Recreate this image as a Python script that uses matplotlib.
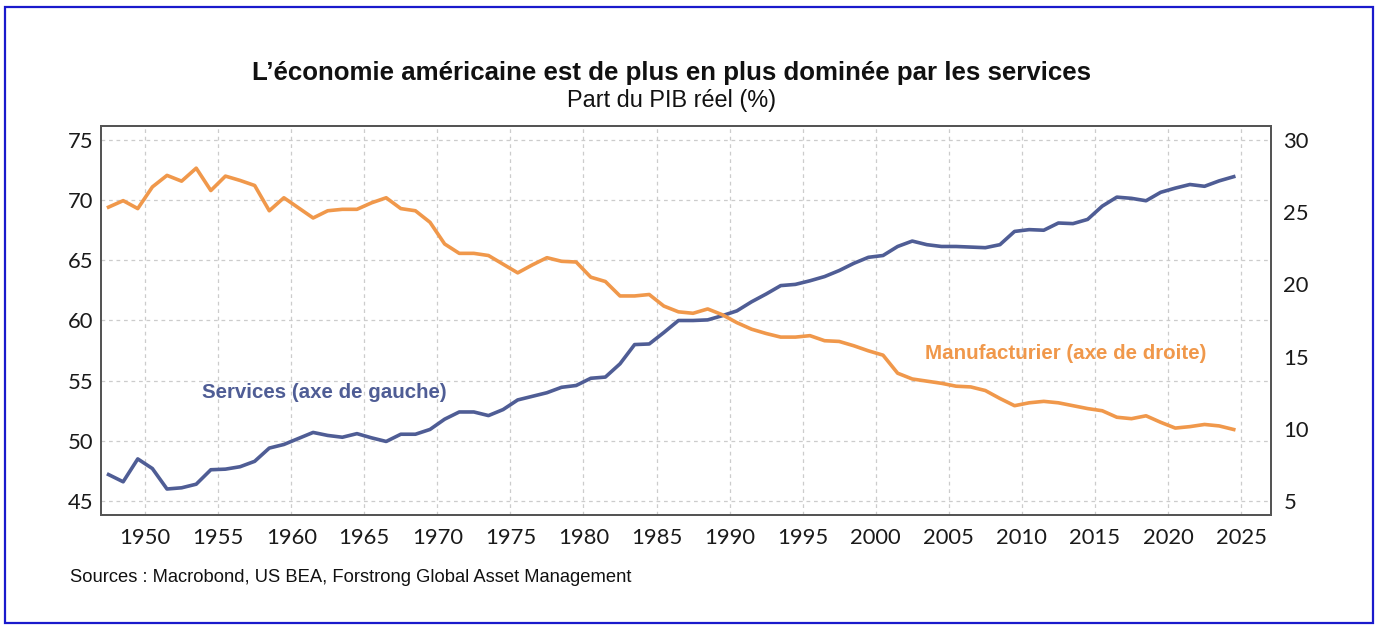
import matplotlib
matplotlib.use("Agg")
import matplotlib.pyplot as plt
import numpy as np
from matplotlib.patches import Rectangle

# annual data, 1947-2024
years = list(range(1947, 2025))

services = [47.2, 46.6, 48.5, 47.7, 46.0, 46.1, 46.4, 47.6, 47.65, 47.85,
            48.3, 49.4, 49.7, 50.2, 50.7, 50.45, 50.3, 50.6, 50.25, 49.95,
            50.55, 50.55, 50.95, 51.8, 52.4, 52.4, 52.1, 52.6, 53.4, 53.7,
            54.0, 54.45, 54.6, 55.2, 55.3, 56.4, 58.0, 58.05, 59.0, 60.0,
            60.0, 60.05, 60.4, 60.8, 61.55, 62.2, 62.9, 63.0, 63.3, 63.65,
            64.15, 64.75, 65.25, 65.4, 66.15, 66.6, 66.3, 66.15, 66.15, 66.1,
            66.05, 66.3, 67.4, 67.55, 67.5, 68.1, 68.05, 68.4, 69.5, 70.25,
            70.15, 69.95, 70.65, 71.0, 71.3, 71.15, 71.6, 71.95]

manufacturing = [25.35, 25.8, 25.25, 26.75, 27.55, 27.15, 28.05, 26.5, 27.5, 27.2,
                 26.85, 25.1, 26.0, 25.3, 24.6, 25.1, 25.2, 25.2, 25.65, 26.0,
                 25.25, 25.1, 24.3, 22.8, 22.15, 22.15, 22.0, 21.4, 20.8, 21.35,
                 21.85, 21.6, 21.55, 20.5, 20.2, 19.2, 19.2, 19.3, 18.5, 18.1,
                 18.0, 18.3, 17.9, 17.35, 16.9, 16.6, 16.35, 16.35, 16.45, 16.1,
                 16.05, 15.75, 15.4, 15.1, 13.85, 13.45, 13.3, 13.15, 12.95, 12.9,
                 12.65, 12.1, 11.6, 11.8, 11.9, 11.8, 11.6, 11.4, 11.25, 10.8,
                 10.7, 10.9, 10.45, 10.05, 10.15, 10.3, 10.2, 9.95]

x_ticks = list(range(1950, 2030, 5))
left_ticks = [45, 50, 55, 60, 65, 70, 75]
right_ticks = [5, 10, 15, 20, 25, 30]

title = "L\u2019économie américaine est de plus en plus dominée par les services"
subtitle = "Part du PIB réel (%)"
source = "Sources : Macrobond, US BEA, Forstrong Global Asset Management"

BLUE = "#4F5D95"
ORANGE = "#F0984B"

W, H = 1380, 631
fig = plt.figure(figsize=(W / 100, H / 100), dpi=100)
fig.patch.set_facecolor("white")

ax = fig.add_axes([100.5 / W, 1 - 515 / H, (1271 - 100.5) / W, (515 - 126) / H])
ax2 = ax.twinx()

# points sit in the middle of each year
xs = np.array(years) + 0.5
ax2.plot(xs, manufacturing, color=ORANGE, lw=2.6, solid_joinstyle="round", zorder=3)
ax.plot(xs, services, color=BLUE, lw=2.6, solid_joinstyle="round", zorder=3)

ax.set_xlim(1946.95, 2027.05)
ax.set_ylim(43.84, 76.16)
ax2.set_ylim(4.03, 30.97)

ax.set_xticks(x_ticks)
ax.set_yticks(left_ticks)
ax2.set_yticks(right_ticks)

ax.grid(True, color="#CCCCCC", ls=(0, (3, 3)), lw=0.9)
ax.set_axisbelow(True)

tick_font = dict(family=["Lato", "DejaVu Sans"], size=15.8)
for a in (ax, ax2):
    a.tick_params(length=0, colors="#1A1A1A")
    for s in a.spines.values():
        s.set_color("#555555")
        s.set_linewidth(1.4)
ax.tick_params(axis="y", pad=5)
ax.tick_params(axis="x", pad=9)
ax2.tick_params(axis="y", pad=9)
for lab in ax.get_xticklabels() + ax.get_yticklabels() + ax2.get_yticklabels():
    lab.set_fontfamily(tick_font["family"])
    lab.set_fontsize(tick_font["size"])

ax.text(0.087, 0.315, "Services (axe de gauche)", transform=ax.transAxes,
        color=BLUE, fontsize=14.8, fontweight="bold", family="Liberation Sans",
        va="center", ha="left")
ax.text(0.704, 0.415, "Manufacturier (axe de droite)", transform=ax.transAxes,
        color=ORANGE, fontsize=14.8, fontweight="bold", family="Liberation Sans",
        va="center", ha="left")

fig.text(672 / W, 1 - 73 / H, title, ha="center", va="center",
         fontsize=18.6, fontweight="bold", family="Liberation Sans", color="#111111")
fig.text(672 / W, 1 - 101 / H, subtitle, ha="center", va="center",
         fontsize=16.9, family="Liberation Sans", color="#111111")
fig.text(70 / W, 1 - 578 / H, source, ha="left", va="center",
         fontsize=13.2, family="Liberation Sans", color="#111111")

# blue frame around the whole picture
fig.patches.append(Rectangle((5 / W, 1 - 623 / H), (1373 - 5) / W, (623 - 7) / H,
                             transform=fig.transFigure, fill=False,
                             edgecolor="#1A1ACC", lw=1.6))

fig.savefig("out.png", dpi=100, facecolor="white")
